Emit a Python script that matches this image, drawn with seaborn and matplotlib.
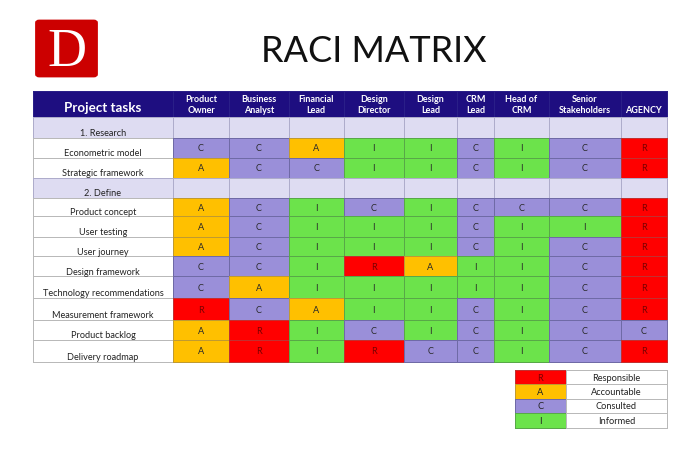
import numpy as np
import matplotlib
matplotlib.use("Agg")
import matplotlib.pyplot as plt
from matplotlib.colors import ListedColormap, to_rgba
from matplotlib.patches import FancyBboxPatch
import seaborn as sns

roles = ["Product\nOwner", "Business\nAnalyst", "Financial\nLead", "Design\nDirector", "Design\nLead",
         "CRM\nLead", "Head of\nCRM", "Senior\nStakeholders", "\nAGENCY"]
tasks = ["1. Research", "Econometric model", "Strategic framework", "2. Define", "Product concept",
         "User testing", "User journey", "Design framework", "Technology recommendations",
         "Measurement framework", "Product backlog", "Delivery roadmap"]
econometric = list("CCAIICICR")
strategic = list("ACCIICICR")
concept = list("ACICICCCR")
testing = list("ACIIICIIR")
journey = list("ACIIICICR")
design_fw = list("CCIRAIICR")
technology = list("CAIIIIICR")
measurement = list("RCAIICICR")
backlog = list("ARICICICC")
delivery = list("ARIRCCICR")
section = list("---------")
assignments = [section, econometric, strategic, section, concept, testing, journey,
               design_fw, technology, measurement, backlog, delivery]
legend_codes = ["R", "A", "C", "I"]
legend_names = ["Responsible", "Accountable", "Consulted", "Informed"]

COLORS = {"R": "#FF0000", "A": "#FFC000", "C": "#9A8FD9", "I": "#6CE34B",
          "-": "#DEDCF2", "w": "#FFFFFF", "h": "#1E0E80"}
EDGES = {"R": "#c23030", "A": "#c09a30", "C": "#6f6aa6", "I": "#58a848",
         "-": "#aeaccb", "w": "#b9b9b9", "h": "#2a1f88"}
KEYS = list(COLORS)
CMAP = ListedColormap([COLORS[k] for k in KEYS])
FONT = ["Lato", "DejaVu Sans"]
W, H = 700, 452

# pixel grid of the table
col_px = np.array([33, 173, 229, 289, 343.5, 404, 456.7, 494.3, 548.7, 620.7, 667])
row_px = np.array([92, 118, 138.7, 158.7, 178.7, 199.3, 217.3, 237.7, 257.3, 277.3, 299.3, 321.3, 340.7, 363.3])
leg_col_px = np.array([515, 566, 667])
leg_row_px = np.array([371, 385.3, 399.7, 414.3, 428.7])


def make_axes(fig, xs, ys):
    return fig.add_axes([xs[0] / W, 1 - ys[-1] / H, (xs[-1] - xs[0]) / W, (ys[-1] - ys[0]) / H])


def warp(ax, xs, ys):
    ix, iy = np.arange(len(xs), dtype=float), np.arange(len(ys), dtype=float)
    ax.set_xscale("function", functions=(lambda v: np.interp(v, ix, xs), lambda v: np.interp(v, xs, ix)))
    ax.set_yscale("function", functions=(lambda v: np.interp(v, iy, ys), lambda v: np.interp(v, ys, iy)))
    ax.set_xlim(0, len(xs) - 1)
    ax.set_ylim(len(ys) - 1, 0)
    ax.set_xticks([]); ax.set_yticks([])
    ax.minorticks_off()


def codes(grid):
    return np.array([[KEYS.index(c) for c in row] for row in grid])


def style_mesh(ax, grid):
    mesh = ax.collections[0]
    mesh.set_edgecolor(np.array([to_rgba(EDGES[c]) for row in grid for c in row]))
    mesh.set_clip_on(False)


sns.set_theme(style="white")
plt.rcParams["font.family"] = FONT
fig = plt.figure(figsize=(W / 100, H / 100), dpi=100, facecolor="white")

# main matrix
grid = [["h"] * (len(roles) + 1)] + [[r[0] if r[0] == "-" else "w"] + r for r in assignments]
labels = [[c if c in "RACI" else "" for c in row] for row in grid]
ax = make_axes(fig, col_px, row_px)
sns.heatmap(codes(grid), ax=ax, cmap=CMAP, vmin=-0.5, vmax=len(KEYS) - 0.5, cbar=False,
            annot=np.array(labels), fmt="", annot_kws={"fontsize": 6.6, "color": "#2a2a2a"},
            linewidths=0.6, xticklabels=False, yticklabels=False)
warp(ax, col_px, row_px)
style_mesh(ax, grid)

for t in ax.texts:
    if t.get_text() == "R":
        t.set_color("#7a0000")

ax.text(0.5, 0.63, "Project tasks", color="white", fontsize=9.6, fontweight="bold", ha="center", va="center")
for i, role in enumerate(roles):
    ax.text(i + 1.5, 0.5, role, color="white", fontsize=6.5, fontweight="bold", ha="center", va="center",
            linespacing=1.35)
for i, task in enumerate(tasks):
    ax.text(0.5, i + 1.74, task, color="#222222", fontsize=6.6, ha="center", va="center")

# legend table
leg_grid = [[c, "w"] for c in legend_codes]
leg_labels = [[c, n] for c, n in zip(legend_codes, legend_names)]
lax = make_axes(fig, leg_col_px, leg_row_px)
sns.heatmap(codes(leg_grid), ax=lax, cmap=CMAP, vmin=-0.5, vmax=len(KEYS) - 0.5, cbar=False,
            annot=np.array(leg_labels), fmt="", annot_kws={"fontsize": 6.7, "color": "#222222"},
            linewidths=0.6, xticklabels=False, yticklabels=False)
warp(lax, leg_col_px, leg_row_px)
style_mesh(lax, leg_grid)
lax.texts[0].set_color("#7a0000")

# title and logo
fig.text(373.5 / W, 1 - 51 / H, "RACI MATRIX", color="#111111", fontsize=26, ha="center", va="center")
fig.add_artist(FancyBboxPatch((36.5 / W, 1 - 77 / H), 60 / W, 55 / H,
                              boxstyle="round,pad=0,rounding_size=0.004", transform=fig.transFigure,
                              facecolor="#CC0000", edgecolor="#CC0000", linewidth=2))
fig.text(66.5 / W, 1 - 53 / H, "D", color="white", fontsize=39, family="Liberation Serif", ha="center", va="center")

fig.savefig("out.png", dpi=100, facecolor="white")
